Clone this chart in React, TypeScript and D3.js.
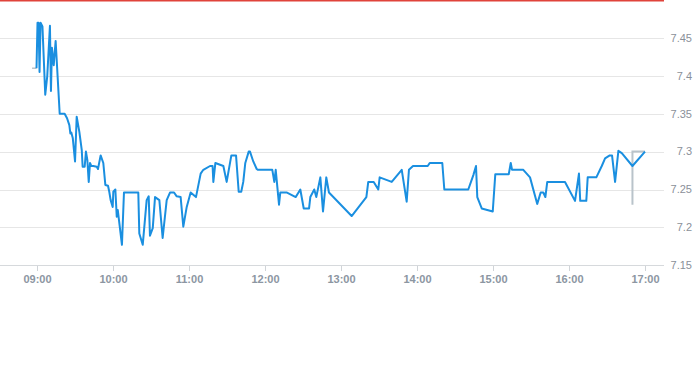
import React from "react";
import * as d3 from "d3";

// minutes since 09:00 and price
const minutes = [
  0, 0.8, 1.6, 2.4, 3.2, 4.7, 6.9, 8.5, 10.6, 11.4, 12.2, 13.6, 15.1, 18.3, 22.2, 24.1, 25.9, 26.7, 27.5, 28.6,
  30.4, 31.7, 33.8, 35.7, 36.4, 38.0, 39.0, 40.1, 41.2, 42.2, 43.2, 44.8, 47.5, 48.5, 50.6, 52.7, 54.3, 56.4, 57.4, 58.5,
  60.1, 60.6, 62.2, 63.3, 64.1, 67.4, 69.0, 80.3, 81.1, 83.8, 86.9, 88.5, 89.5, 91.7, 93.5, 96.9, 99.5, 102.7, 105.3, 108.5,
  110.6, 113.7, 115.8, 118.5, 121.6, 125.8, 129.5, 131.6, 136.9, 138.9, 139.5, 141.1, 147.4, 150.0, 153.7, 157.4, 159.5, 161.5, 163.1, 164.7,
  167.4, 168.4, 171.0, 173.7, 174.5, 186.0, 187.6, 188.7, 191.3, 192.3, 197.6, 204.5, 208.1, 210.8, 215.0, 216.0, 219.1, 220.7, 223.9, 226.0,
  228.6, 230.7, 248.6, 260.2, 261.7, 266.0, 269.6, 270.7, 280.2, 288.1, 292.0, 293.8, 297.0, 308.6, 310.2, 320.1, 321.7, 340.6, 344.6, 346.7,
  347.7, 351.2, 359.9, 361.9, 372.5, 374.1, 375.1, 384.0, 389.3, 395.0, 397.7, 399.8, 401.4, 402.9, 416.9, 424.8, 427.9, 428.9, 433.7, 434.8,
  441.6, 445.9, 448.5, 452.2, 454.0, 456.4, 459.0, 461.7, 470.1, 480,
];
const prices = [
  7.41, 7.47, 7.47, 7.405, 7.47, 7.465, 7.375, 7.4, 7.466, 7.38, 7.437, 7.414, 7.446, 7.35, 7.35, 7.344, 7.335, 7.324, 7.325, 7.318,
  7.287, 7.346, 7.326, 7.302, 7.28, 7.28, 7.3, 7.289, 7.26, 7.285, 7.281, 7.281, 7.28, 7.277, 7.295, 7.285, 7.256, 7.255, 7.247, 7.236,
  7.227, 7.247, 7.25, 7.214, 7.223, 7.177, 7.246, 7.246, 7.192, 7.177, 7.236, 7.241, 7.189, 7.199, 7.24, 7.236, 7.186, 7.236, 7.246, 7.246,
  7.241, 7.24, 7.201, 7.227, 7.246, 7.24, 7.271, 7.276, 7.281, 7.281, 7.26, 7.285, 7.281, 7.26, 7.295, 7.295, 7.247, 7.247, 7.26, 7.285,
  7.3, 7.3, 7.287, 7.277, 7.276, 7.276, 7.26, 7.276, 7.23, 7.246, 7.246, 7.24, 7.25, 7.225, 7.225, 7.24, 7.25, 7.24, 7.266, 7.221,
  7.266, 7.246, 7.215, 7.24, 7.26, 7.26, 7.25, 7.266, 7.26, 7.276, 7.234, 7.276, 7.281, 7.281, 7.285, 7.285, 7.25, 7.25, 7.269, 7.281,
  7.24, 7.225, 7.221, 7.27, 7.27, 7.285, 7.276, 7.276, 7.266, 7.231, 7.246, 7.246, 7.24, 7.26, 7.26, 7.235, 7.271, 7.235, 7.235, 7.266,
  7.266, 7.281, 7.291, 7.295, 7.295, 7.26, 7.301, 7.298, 7.281, 7.3,
];
// grey auxiliary series
const greyStartMinutes = [-3.5, 0];
const greyStartPrices = [7.41, 7.41];
const greyEndMinutes = [470.1, 470.1, 480];
const greyEndPrices = [7.23, 7.3, 7.3];

const yTicks = [7.15, 7.2, 7.25, 7.3, 7.35, 7.4, 7.45];
const xTickLabels = ["09:00", "10:00", "11:00", "12:00", "13:00", "14:00", "15:00", "16:00", "17:00"];
const limitPrice = 7.5;

const W = 693;
const H = 365;

export default function App() {
  const x = d3.scaleLinear().domain([0, 480]).range([36.5, 645]);
  const y = d3.scaleLinear().domain([7.15, 7.5]).range([265.3, 0]);
  const plotRight = 664;

  const line = d3
    .line<[number, number]>()
    .x((d) => x(d[0]))
    .y((d) => y(d[1]));

  const mainData = minutes.map((m, i) => [m, prices[i]] as [number, number]);
  const gs = greyStartMinutes.map((m, i) => [m, greyStartPrices[i]] as [number, number]);
  const ge = greyEndMinutes.map((m, i) => [m, greyEndPrices[i]] as [number, number]);

  const font = "'Liberation Sans', Arial, Helvetica, sans-serif";

  return (
    <svg
      width={W}
      height={H}
      style={{ position: "fixed", left: 0, top: 0, background: "#fff" }}
    >
      {yTicks.map((t) => (
        <g key={t}>
          <line
            x1={0}
            x2={plotRight}
            y1={Math.round(y(t)) + 0.5}
            y2={Math.round(y(t)) + 0.5}
            stroke={t === 7.15 ? "#d6d9dc" : "#e6e6e6"}
            strokeWidth={1}
          />
          <text
            x={692}
            y={y(t)}
            dy="0.35em"
            textAnchor="end"
            fontSize={11}
            fontFamily={font}
            fill="#8a9099"
          >
            {d3.format(".2~f")(t)}
          </text>
        </g>
      ))}
      <line
        x1={0}
        x2={plotRight}
        y1={y(limitPrice) + 0.75}
        y2={y(limitPrice) + 0.75}
        stroke="#e0433b"
        strokeWidth={1.5}
      />
      {xTickLabels.map((lab, i) => {
        const xp = Math.round(x(i * 60)) + 0.5;
        return (
          <g key={lab}>
            <line x1={xp} x2={xp} y1={266} y2={271} stroke="#d0d4d8" />
            <text
              x={xp}
              y={283}
              textAnchor="middle"
              fontSize={11}
              fontWeight={600}
              fontFamily={font}
              fill="#8c96a2"
            >
              {lab}
            </text>
          </g>
        );
      })}
      <path d={line(gs) || ""} fill="none" stroke="#b9c3ca" strokeWidth={1.5} />
      <path d={line(ge) || ""} fill="none" stroke="#b9c3ca" strokeWidth={2} />
      <path
        d={line(mainData) || ""}
        fill="none"
        stroke="#1a8fe0"
        strokeWidth={2}
        strokeLinejoin="round"
      />
    </svg>
  );
}
